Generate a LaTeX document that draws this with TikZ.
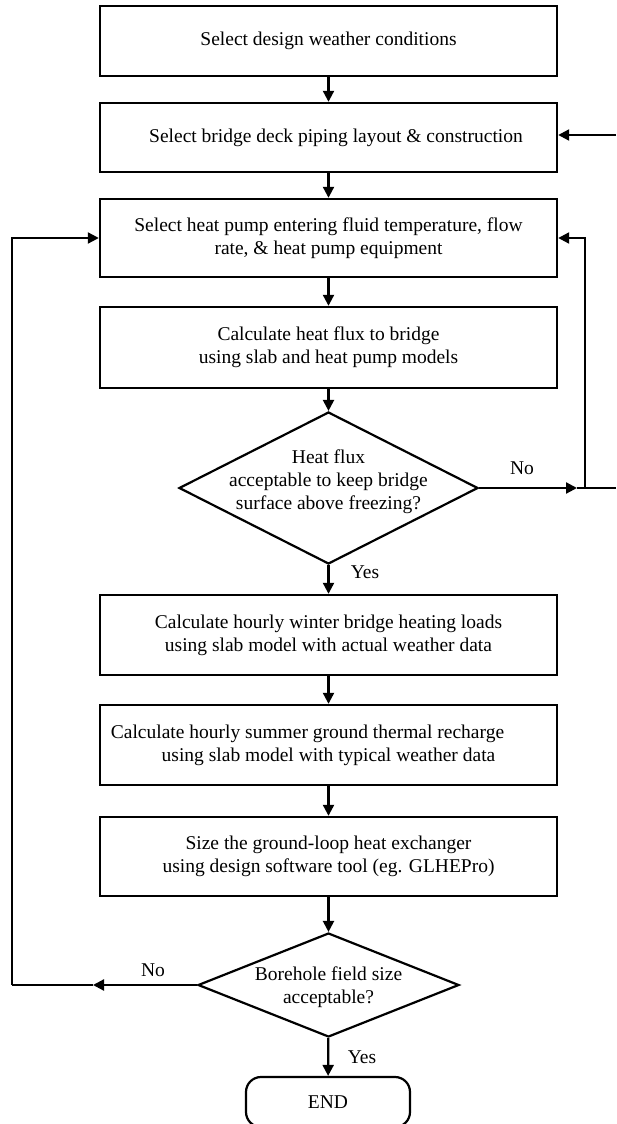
\documentclass[tikz,border=0pt]{standalone}
\usepackage{fontspec}
\setmainfont{Liberation Serif}
\usetikzlibrary{arrows.meta,shapes.geometric}
\begin{document}
\begin{tikzpicture}[x=1pt,y=-1pt,
  every node/.style={font=\fontsize{19.5}{23}\selectfont},
  procbox/.style={draw,line width=2.4pt,rectangle,inner sep=0pt,minimum width=457pt,align=center},
  decision/.style={draw,line width=2.2pt,diamond,inner sep=0pt,aspect=1},
  endbox/.style={draw,line width=2.2pt,rectangle,rounded corners=15pt,inner sep=0pt,minimum width=164pt,minimum height=50pt},
  lbl/.style={inner sep=0pt},
  conn/.style={line width=2.2pt,-{Triangle[length=11pt,width=11pt]}},
  plain/.style={line width=2.2pt}
]
\useasboundingbox (0,0) rectangle (616,1124);
\fill[white] (0,0) rectangle (616,1124);

\node[procbox,minimum height=70pt] (b1) at (328.5,41) {Select design weather conditions};
\node[procbox,minimum height=69pt] (b2) at (328.5,137.5) {\hspace*{15pt}Select bridge deck piping layout \& construction};
\node[procbox,minimum height=78pt] (b3) at (328.5,238) {Select heat pump entering fluid temperature, flow\\rate, \& heat pump equipment};
\node[procbox,minimum height=81pt] (b4) at (328.5,347.5) {Calculate heat flux to bridge\\using slab and heat pump models};
\node[decision,minimum width=299pt,minimum height=152pt] (d1) at (328.5,488) {};
\node[lbl,align=center] (d1t) at (328.5,482) {Heat flux\\acceptable to keep bridge\\surface above freezing?};
\node[procbox,minimum height=80pt] (b5) at (328.5,635) {Calculate hourly winter bridge heating loads\\using slab model with actual weather data};
\node[procbox,minimum height=80pt] (b6) at (328.5,745) {Calculate hourly summer ground thermal recharge\hspace*{42pt}\\using slab model with typical weather data};
\node[procbox,minimum height=79pt] (b7) at (328.5,856.5) {Size the ground-loop heat exchanger\\using design software tool (eg. GLHEPro)};
\node[decision,minimum width=261pt,minimum height=104pt] (d2) at (328.5,985) {};
\node[lbl,align=center] (d2t) at (328.5,987) {Borehole field size\\acceptable?};
\node[endbox] (end) at (328,1102) {END};

\node[lbl] (no1) at (522,468) {No};
\node[lbl] (yes1) at (365,572) {Yes};
\node[lbl] (no2) at (153,970) {No};
\node[lbl] (yes2) at (362,1057) {Yes};

\coordinate (r1) at (577,488);
\coordinate (r1e) at (616,488);
\coordinate (rv) at (585,488);
\coordinate (r2) at (616,135);
\coordinate (l1) at (93,985);
\coordinate (lv) at (12,985);

\draw[conn] (b1) -- (b2);
\draw[conn] (b2) -- (b3);
\draw[conn] (b3) -- (b4);
\draw[conn] (b4) -- (d1);
\draw[conn] (d1) -- (b5);
\draw[conn] (b5) -- (b6);
\draw[conn] (b6) -- (b7);
\draw[conn] (b7) -- (d2);
\draw[conn] (d2) -- (end);

\draw[conn] (d1.east) -- (r1);
\draw[plain] (r1) -- (r1e);
\draw[conn] (rv) |- (b3.east);
\draw[conn] (r2) -- (b2.east |- r2);
\draw[conn] (d2.west) -- (l1);
\draw[plain] (l1) -- (lv);
\draw[conn] (lv) |- (b3.west);
\end{tikzpicture}
\end{document}
